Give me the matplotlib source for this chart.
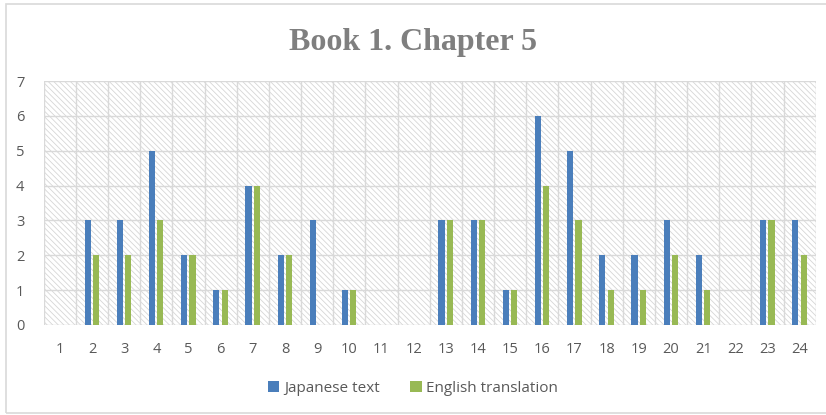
import matplotlib
matplotlib.use("Agg")
import matplotlib.pyplot as plt
from matplotlib.patches import Rectangle
import numpy as np

categories = [str(i) for i in range(1, 25)]
japanese = [0, 3, 3, 5, 2, 1, 4, 2, 3, 1, 0, 0, 3, 3, 1, 6, 5, 2, 2, 3, 2, 0, 3, 3]
english = [0, 2, 2, 3, 2, 1, 4, 2, 0, 1, 0, 0, 3, 3, 1, 4, 3, 1, 1, 2, 1, 0, 3, 2]
title = "Book 1. Chapter 5"
series_names = ["Japanese text", "English translation"]
colors = ["#4A7EBB", "#98B954"]

plt.rcParams['font.family'] = ['Open Sans', 'DejaVu Sans']

fig = plt.figure(figsize=(8.26, 4.15), dpi=100)
ax = fig.add_axes([0.053, 0.2169, 0.9346, 0.5879])

# outer chart border
fig.patches.append(Rectangle((6/826, 2/415), 1 - 6/826 + 0.01, 1 - 6/415, transform=fig.transFigure,
                             fill=False, edgecolor="#D9D9D9", linewidth=1.2, zorder=0))

x = np.arange(len(categories))
n = len(categories)
ax.set_xlim(-0.5, n - 0.5)
ax.set_ylim(0, 7)

# hatched background
plt.rcParams['hatch.linewidth'] = 0.6
bg = Rectangle((0, 0), 1, 1, transform=ax.transAxes, facecolor="white",
               edgecolor="#D6D6D6", linewidth=0, hatch="\\" * 6, zorder=0)
ax.add_patch(bg)

# grid lines
for yv in range(0, 8):
    ax.axhline(yv, color="#D9D9D9", linewidth=1.0, zorder=1)
for xv in np.arange(-0.5, n + 0.5, 1):
    ax.axvline(xv, color="#D9D9D9", linewidth=1.0, zorder=1)

w = 0.19
ax.bar(x - 0.135, japanese, width=w, color=colors[0], label=series_names[0], zorder=3)
ax.bar(x + 0.125, english, width=w, color=colors[1], label=series_names[1], zorder=3)

ax.set_xticks(x)
ax.set_xticklabels(categories)
ax.set_yticks(range(0, 8))
for s in ax.spines.values():
    s.set_visible(False)
ax.tick_params(axis='both', length=0, labelsize=10.5, colors="#595959")
ax.tick_params(axis='x', pad=12)
ax.tick_params(axis='y', pad=14)

fig.text(0.5, 0.897, title, ha='center', va='center', fontsize=23, fontweight='bold',
         color="#7F7F7F", family=['Liberation Serif', 'DejaVu Serif'])

leg = fig.legend(loc='center', bbox_to_anchor=(0.5, 0.065), ncol=2, frameon=False,
                 fontsize=11, handlelength=0.75, handleheight=0.75, handletextpad=0.3,
                 columnspacing=2.0)
for t in leg.get_texts():
    t.set_color("#595959")

fig.savefig("out.png", dpi=100)
